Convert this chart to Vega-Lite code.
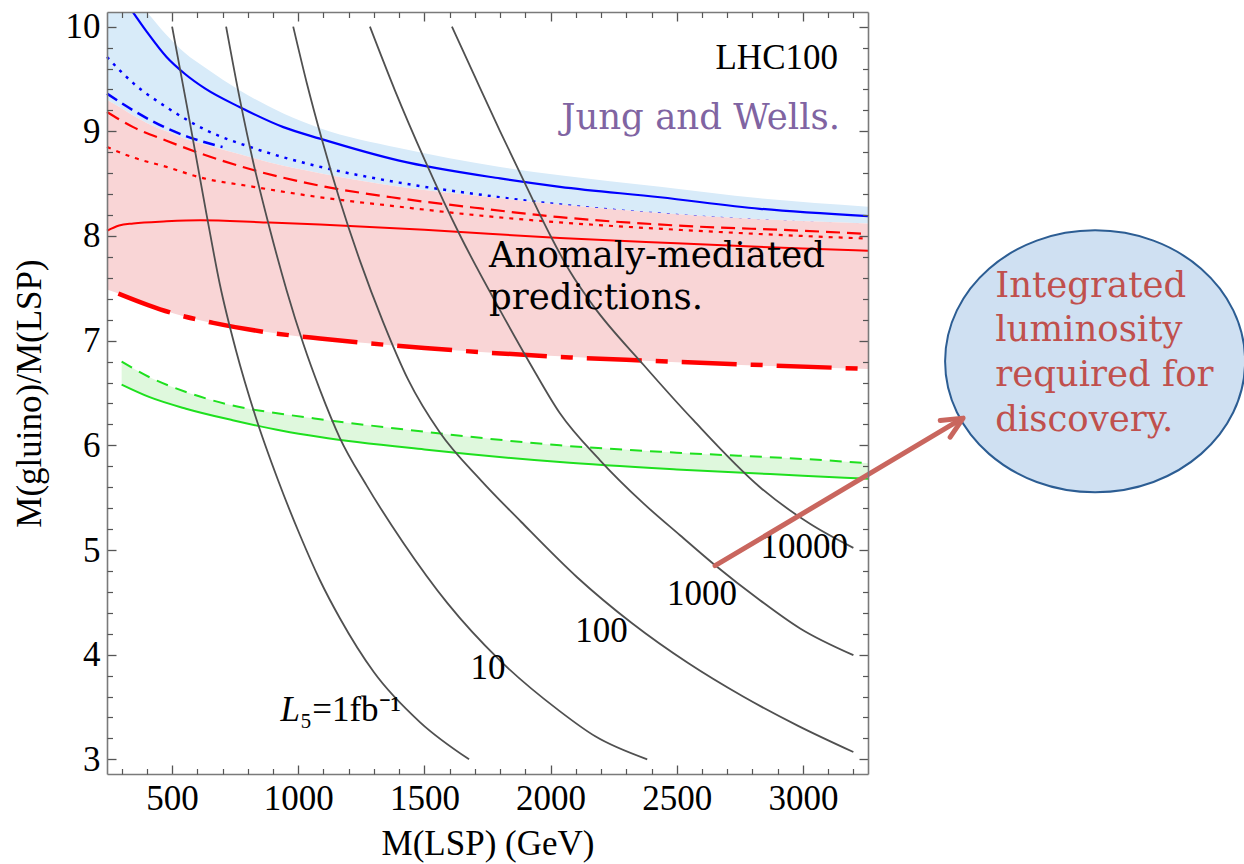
{
  "$schema": "https://vega.github.io/schema/vega-lite/v6.json",
  "width": 761,
  "height": 762,
  "autosize": {"type": "none"},
  "padding": {"left": 107, "top": 12, "right": 376, "bottom": 90},
  "background": "white",
  "config": {"view": {"stroke": null}, "axis": {"grid": false}},
  "datasets": {
    "bands": [
      {"s": "blue", "x": 242, "y": 9.30, "hi": 10.5},
      {"s": "blue", "x": 300, "y": 9.22, "hi": 10.35},
      {"s": "blue", "x": 346, "y": 9.15, "hi": 10.26},
      {"s": "blue", "x": 399, "y": 9.08, "hi": 10.14},
      {"s": "blue", "x": 478, "y": 9.0, "hi": 9.92},
      {"s": "blue", "x": 550, "y": 8.93, "hi": 9.75},
      {"s": "blue", "x": 636, "y": 8.87, "hi": 9.6},
      {"s": "blue", "x": 769, "y": 8.78, "hi": 9.39},
      {"s": "blue", "x": 941, "y": 8.67, "hi": 9.17},
      {"s": "blue", "x": 1086, "y": 8.6, "hi": 9.03},
      {"s": "blue", "x": 1400, "y": 8.47, "hi": 8.84},
      {"s": "blue", "x": 1800, "y": 8.36, "hi": 8.66},
      {"s": "blue", "x": 2037, "y": 8.30, "hi": 8.58},
      {"s": "blue", "x": 2434, "y": 8.22, "hi": 8.47},
      {"s": "blue", "x": 2830, "y": 8.16, "hi": 8.36},
      {"s": "blue", "x": 3258, "y": 8.12, "hi": 8.28},
      {"s": "pink", "x": 242, "y": 7.49, "hi": 9.30},
      {"s": "pink", "x": 300, "y": 7.44, "hi": 9.22},
      {"s": "pink", "x": 346, "y": 7.39, "hi": 9.15},
      {"s": "pink", "x": 399, "y": 7.34, "hi": 9.08},
      {"s": "pink", "x": 478, "y": 7.28, "hi": 9.0},
      {"s": "pink", "x": 550, "y": 7.23, "hi": 8.93},
      {"s": "pink", "x": 636, "y": 7.18, "hi": 8.87},
      {"s": "pink", "x": 769, "y": 7.12, "hi": 8.78},
      {"s": "pink", "x": 941, "y": 7.06, "hi": 8.67},
      {"s": "pink", "x": 1086, "y": 7.02, "hi": 8.6},
      {"s": "pink", "x": 1400, "y": 6.95, "hi": 8.47},
      {"s": "pink", "x": 1800, "y": 6.88, "hi": 8.36},
      {"s": "pink", "x": 2037, "y": 6.85, "hi": 8.30},
      {"s": "pink", "x": 2434, "y": 6.80, "hi": 8.22},
      {"s": "pink", "x": 2830, "y": 6.76, "hi": 8.16},
      {"s": "pink", "x": 3258, "y": 6.73, "hi": 8.12},
      {"s": "green", "x": 300, "y": 6.58, "hi": 6.8},
      {"s": "green", "x": 411, "y": 6.46, "hi": 6.65},
      {"s": "green", "x": 555, "y": 6.35, "hi": 6.51},
      {"s": "green", "x": 740, "y": 6.24, "hi": 6.38},
      {"s": "green", "x": 936, "y": 6.14, "hi": 6.30},
      {"s": "green", "x": 1086, "y": 6.08, "hi": 6.25},
      {"s": "green", "x": 1500, "y": 5.96, "hi": 6.13},
      {"s": "green", "x": 2037, "y": 5.84, "hi": 6.00},
      {"s": "green", "x": 2500, "y": 5.77, "hi": 5.93},
      {"s": "green", "x": 3000, "y": 5.71, "hi": 5.87},
      {"s": "green", "x": 3258, "y": 5.68, "hi": 5.83}
    ],
    "lines": [
      {"s": "bsol", "x": 330, "y": 10.19}, {"s": "bsol", "x": 400, "y": 9.95}, {"s": "bsol", "x": 478, "y": 9.71}, {"s": "bsol", "x": 550, "y": 9.55}, {"s": "bsol", "x": 630, "y": 9.41}, {"s": "bsol", "x": 769, "y": 9.23}, {"s": "bsol", "x": 941, "y": 9.04}, {"s": "bsol", "x": 1086, "y": 8.93}, {"s": "bsol", "x": 1400, "y": 8.72}, {"s": "bsol", "x": 1800, "y": 8.55}, {"s": "bsol", "x": 2037, "y": 8.47}, {"s": "bsol", "x": 2434, "y": 8.37}, {"s": "bsol", "x": 2830, "y": 8.26}, {"s": "bsol", "x": 3258, "y": 8.19},
      {"s": "bdot", "x": 242, "y": 9.71}, {"s": "bdot", "x": 346, "y": 9.46}, {"s": "bdot", "x": 478, "y": 9.23}, {"s": "bdot", "x": 636, "y": 9.01}, {"s": "bdot", "x": 822, "y": 8.84}, {"s": "bdot", "x": 1071, "y": 8.67}, {"s": "bdot", "x": 1400, "y": 8.51}, {"s": "bdot", "x": 1800, "y": 8.37}, {"s": "bdot", "x": 2037, "y": 8.30}, {"s": "bdot", "x": 2500, "y": 8.20}, {"s": "bdot", "x": 3258, "y": 8.10},
      {"s": "bdash", "x": 242, "y": 9.36}, {"s": "bdash", "x": 346, "y": 9.2}, {"s": "bdash", "x": 478, "y": 9.03}, {"s": "bdash", "x": 560, "y": 8.95}, {"s": "bdash", "x": 700, "y": 8.85},
      {"s": "rdash", "x": 242, "y": 9.185}, {"s": "rdash", "x": 346, "y": 9.04}, {"s": "rdash", "x": 478, "y": 8.91}, {"s": "rdash", "x": 611, "y": 8.79}, {"s": "rdash", "x": 822, "y": 8.63}, {"s": "rdash", "x": 1086, "y": 8.48}, {"s": "rdash", "x": 1400, "y": 8.36}, {"s": "rdash", "x": 1700, "y": 8.27}, {"s": "rdash", "x": 2037, "y": 8.18}, {"s": "rdash", "x": 2500, "y": 8.1}, {"s": "rdash", "x": 3000, "y": 8.05}, {"s": "rdash", "x": 3258, "y": 8.02},
      {"s": "rdot", "x": 242, "y": 8.85}, {"s": "rdot", "x": 346, "y": 8.75}, {"s": "rdot", "x": 478, "y": 8.66}, {"s": "rdot", "x": 611, "y": 8.56}, {"s": "rdot", "x": 822, "y": 8.47}, {"s": "rdot", "x": 1086, "y": 8.37}, {"s": "rdot", "x": 1400, "y": 8.28}, {"s": "rdot", "x": 1700, "y": 8.2}, {"s": "rdot", "x": 2037, "y": 8.13}, {"s": "rdot", "x": 2500, "y": 8.06}, {"s": "rdot", "x": 3000, "y": 8.0}, {"s": "rdot", "x": 3258, "y": 7.975},
      {"s": "rsol", "x": 242, "y": 8.05}, {"s": "rsol", "x": 290, "y": 8.10}, {"s": "rsol", "x": 346, "y": 8.12}, {"s": "rsol", "x": 478, "y": 8.14}, {"s": "rsol", "x": 611, "y": 8.15}, {"s": "rsol", "x": 862, "y": 8.13}, {"s": "rsol", "x": 1086, "y": 8.11}, {"s": "rsol", "x": 1500, "y": 8.06}, {"s": "rsol", "x": 2037, "y": 7.98}, {"s": "rsol", "x": 2500, "y": 7.93}, {"s": "rsol", "x": 3000, "y": 7.88}, {"s": "rsol", "x": 3258, "y": 7.86},
      {"s": "rdd", "x": 287, "y": 7.45}, {"s": "rdd", "x": 405, "y": 7.34}, {"s": "rdd", "x": 505, "y": 7.26}, {"s": "rdd", "x": 663, "y": 7.17}, {"s": "rdd", "x": 876, "y": 7.08}, {"s": "rdd", "x": 1086, "y": 7.02}, {"s": "rdd", "x": 1500, "y": 6.93}, {"s": "rdd", "x": 2077, "y": 6.84}, {"s": "rdd", "x": 2368, "y": 6.81}, {"s": "rdd", "x": 2800, "y": 6.77}, {"s": "rdd", "x": 3258, "y": 6.73},
      {"s": "gdash", "x": 300, "y": 6.8}, {"s": "gdash", "x": 411, "y": 6.65}, {"s": "gdash", "x": 555, "y": 6.51}, {"s": "gdash", "x": 740, "y": 6.38}, {"s": "gdash", "x": 936, "y": 6.30}, {"s": "gdash", "x": 1086, "y": 6.25}, {"s": "gdash", "x": 1500, "y": 6.13}, {"s": "gdash", "x": 2037, "y": 6.00}, {"s": "gdash", "x": 2500, "y": 5.93}, {"s": "gdash", "x": 3000, "y": 5.87}, {"s": "gdash", "x": 3258, "y": 5.83},
      {"s": "gsol", "x": 300, "y": 6.58}, {"s": "gsol", "x": 411, "y": 6.46}, {"s": "gsol", "x": 555, "y": 6.35}, {"s": "gsol", "x": 740, "y": 6.24}, {"s": "gsol", "x": 936, "y": 6.14}, {"s": "gsol", "x": 1086, "y": 6.08}, {"s": "gsol", "x": 1500, "y": 5.96}, {"s": "gsol", "x": 2037, "y": 5.84}, {"s": "gsol", "x": 2500, "y": 5.77}, {"s": "gsol", "x": 3000, "y": 5.71}, {"s": "gsol", "x": 3258, "y": 5.68},
      {"s": "g1", "x": 500, "y": 10.0}, {"s": "g1", "x": 558, "y": 9.25}, {"s": "g1", "x": 637, "y": 8.2}, {"s": "g1", "x": 690, "y": 7.529}, {"s": "g1", "x": 753, "y": 6.908}, {"s": "g1", "x": 829, "y": 6.287}, {"s": "g1", "x": 920, "y": 5.666}, {"s": "g1", "x": 1007, "y": 5.141}, {"s": "g1", "x": 1086, "y": 4.711}, {"s": "g1", "x": 1165, "y": 4.348}, {"s": "g1", "x": 1300, "y": 3.832}, {"s": "g1", "x": 1483, "y": 3.354}, {"s": "g1", "x": 1677, "y": 3.0},
      {"s": "g2", "x": 714, "y": 10.0}, {"s": "g2", "x": 769, "y": 9.30}, {"s": "g2", "x": 822, "y": 8.70}, {"s": "g2", "x": 888, "y": 8.06}, {"s": "g2", "x": 954, "y": 7.48}, {"s": "g2", "x": 1020, "y": 6.97}, {"s": "g2", "x": 1086, "y": 6.53}, {"s": "g2", "x": 1165, "y": 6.07}, {"s": "g2", "x": 1270, "y": 5.62}, {"s": "g2", "x": 1416, "y": 5.07}, {"s": "g2", "x": 1592, "y": 4.49}, {"s": "g2", "x": 1797, "y": 3.95}, {"s": "g2", "x": 2031, "y": 3.47}, {"s": "g2", "x": 2177, "y": 3.22}, {"s": "g2", "x": 2383, "y": 3.0},
      {"s": "g3", "x": 980, "y": 10.0}, {"s": "g3", "x": 1034, "y": 9.46}, {"s": "g3", "x": 1094, "y": 8.92}, {"s": "g3", "x": 1165, "y": 8.34}, {"s": "g3", "x": 1245, "y": 7.76}, {"s": "g3", "x": 1336, "y": 7.18}, {"s": "g3", "x": 1435, "y": 6.63}, {"s": "g3", "x": 1562, "y": 6.12}, {"s": "g3", "x": 1724, "y": 5.666}, {"s": "g3", "x": 1883, "y": 5.27}, {"s": "g3", "x": 2105, "y": 4.74}, {"s": "g3", "x": 2323, "y": 4.30}, {"s": "g3", "x": 2545, "y": 3.92}, {"s": "g3", "x": 2763, "y": 3.60}, {"s": "g3", "x": 2981, "y": 3.32}, {"s": "g3", "x": 3200, "y": 3.07},
      {"s": "g4", "x": 1284, "y": 10.0}, {"s": "g4", "x": 1383, "y": 9.392}, {"s": "g4", "x": 1502, "y": 8.723}, {"s": "g4", "x": 1641, "y": 8.007}, {"s": "g4", "x": 1800, "y": 7.29}, {"s": "g4", "x": 1919, "y": 6.78}, {"s": "g4", "x": 2037, "y": 6.306}, {"s": "g4", "x": 2196, "y": 5.857}, {"s": "g4", "x": 2366, "y": 5.45}, {"s": "g4", "x": 2513, "y": 5.141}, {"s": "g4", "x": 2652, "y": 4.854}, {"s": "g4", "x": 2830, "y": 4.52}, {"s": "g4", "x": 2989, "y": 4.25}, {"s": "g4", "x": 3200, "y": 3.995},
      {"s": "g5", "x": 1609, "y": 10.0}, {"s": "g5", "x": 1704, "y": 9.5}, {"s": "g5", "x": 1800, "y": 9.0}, {"s": "g5", "x": 1899, "y": 8.5}, {"s": "g5", "x": 2000, "y": 8.0}, {"s": "g5", "x": 2077, "y": 7.66}, {"s": "g5", "x": 2170, "y": 7.33}, {"s": "g5", "x": 2368, "y": 6.77}, {"s": "g5", "x": 2566, "y": 6.24}, {"s": "g5", "x": 2830, "y": 5.6}, {"s": "g5", "x": 3028, "y": 5.25}, {"s": "g5", "x": 3200, "y": 5.02}
    ],
    "texts": [
      {"k": "contour", "x": 3005, "y": 4.92, "t": "10000"},
      {"k": "contour", "x": 2600, "y": 4.47, "t": "1000"},
      {"k": "contour", "x": 2202, "y": 4.12, "t": "100"},
      {"k": "contour", "x": 1752, "y": 3.77, "t": "10"},
      {"k": "Litalic", "x": 1007, "y": 3.363, "t": "L"},
      {"k": "Lrest", "x": 1007, "y": 3.363, "t": "₅=1fb⁻¹"},
      {"k": "lhc", "x": 3139, "y": 9.6, "t": "LHC100"},
      {"k": "jw", "x": 3147, "y": 9.026, "t": "Jung and Wells."},
      {"k": "anom", "x": 1756, "y": 7.704, "t": "Anomaly-mediated"},
      {"k": "anom", "x": 1756, "y": 7.306, "t": "predictions."},
      {"k": "circ", "x": 3762, "y": 7.417, "t": "Integrated"},
      {"k": "circ", "x": 3762, "y": 7.0, "t": "luminosity"},
      {"k": "circ", "x": 3762, "y": 6.57, "t": "required for"},
      {"k": "circ", "x": 3762, "y": 6.14, "t": "discovery."}
    ],
    "arrow": [{"x": 2652, "y": 4.85, "x2": 3630, "y2": 6.255}],
    "head": [{"x": 3635, "y": 6.26}],
    "blob": [{"x": 4158, "y": 6.803}]
  },
  "encoding": {
    "x": {"field": "x", "type": "quantitative", "scale": {"domain": [242, 3258], "nice": false, "zero": false}, "axis": null},
    "y": {"field": "y", "type": "quantitative", "scale": {"domain": [2.86, 10.14], "nice": false, "zero": false}, "axis": null}
  },
  "layer": [
    {"data": {"name": "bands"}, "transform": [{"filter": "datum.s === 'blue'"}],
     "mark": {"type": "area", "color": "#d8ebf9", "opacity": 1, "clip": true, "interpolate": "monotone"},
     "encoding": {"y2": {"field": "hi"}}},
    {"data": {"name": "lines"}, "transform": [{"filter": "datum.s === 'bdot'"}],
     "mark": {"type": "line", "color": "#0000ff", "strokeWidth": 2.5, "strokeDash": [3, 6], "interpolate": "monotone"}},
    {"data": {"name": "lines"}, "transform": [{"filter": "datum.s === 'bdash'"}],
     "mark": {"type": "line", "color": "#0000ff", "strokeWidth": 2.5, "strokeDash": [12, 6], "interpolate": "monotone"}},
    {"data": {"name": "bands"}, "transform": [{"filter": "datum.s === 'pink'"}],
     "mark": {"type": "area", "color": "#f9d5d6", "opacity": 1, "interpolate": "monotone"},
     "encoding": {"y2": {"field": "hi"}}},
    {"data": {"name": "bands"}, "transform": [{"filter": "datum.s === 'green'"}],
     "mark": {"type": "area", "color": "#dff8dd", "opacity": 1, "interpolate": "monotone"},
     "encoding": {"y2": {"field": "hi"}}},
    {"data": {"name": "lines"}, "transform": [{"filter": "datum.s === 'rdash'"}],
     "mark": {"type": "line", "color": "#ff0000", "strokeWidth": 2.2, "strokeDash": [14, 7], "interpolate": "monotone"}},
    {"data": {"name": "lines"}, "transform": [{"filter": "datum.s === 'rdot'"}],
     "mark": {"type": "line", "color": "#ff0000", "strokeWidth": 2.2, "strokeDash": [4, 6], "interpolate": "monotone"}},
    {"data": {"name": "lines"}, "transform": [{"filter": "datum.s === 'rsol'"}],
     "mark": {"type": "line", "color": "#ff0000", "strokeWidth": 2, "interpolate": "monotone"}},
    {"data": {"name": "lines"}, "transform": [{"filter": "datum.s === 'rdd'"}],
     "mark": {"type": "line", "color": "#ff0000", "strokeWidth": 4.5, "strokeDash": [55, 14, 12, 14], "interpolate": "monotone"}},
    {"data": {"name": "lines"}, "transform": [{"filter": "datum.s === 'bsol'"}],
     "mark": {"type": "line", "color": "#0000ff", "strokeWidth": 2.2, "clip": true, "interpolate": "monotone"}},
    {"data": {"name": "lines"}, "transform": [{"filter": "datum.s === 'gdash'"}],
     "mark": {"type": "line", "color": "#1ee01e", "strokeWidth": 2, "strokeDash": [12, 8], "interpolate": "monotone"}},
    {"data": {"name": "lines"}, "transform": [{"filter": "datum.s === 'gsol'"}],
     "mark": {"type": "line", "color": "#1ee01e", "strokeWidth": 2, "interpolate": "monotone"}},
    {"data": {"name": "lines"}, "transform": [{"filter": "datum.s === 'g1'"}],
     "mark": {"type": "line", "color": "#505050", "strokeWidth": 1.8, "interpolate": "monotone"},
     "encoding": {
       "x": {"field": "x", "type": "quantitative", "scale": {"domain": [242, 3258], "nice": false, "zero": false},
             "axis": {"orient": "bottom", "values": [500, 1000, 1500, 2000, 2500, 3000], "format": "d", "ticks": false, "domain": false, "labelFont": "Liberation Serif", "labelFontSize": 35, "labelColor": "#000000", "labelPadding": 7, "labelFlush": false, "labelOverlap": false, "title": "M(LSP) (GeV)", "titleFont": "Liberation Serif", "titleFontSize": 35, "titleFontWeight": "normal", "titleColor": "#000000", "titlePadding": 10}},
       "y": {"field": "y", "type": "quantitative", "scale": {"domain": [2.86, 10.14], "nice": false, "zero": false},
             "axis": {"orient": "left", "values": [3, 4, 5, 6, 7, 8, 9, 10], "format": "d", "ticks": false, "domain": false, "labelFont": "Liberation Serif", "labelFontSize": 35, "labelColor": "#000000", "labelPadding": 7, "labelFlush": false, "labelOverlap": false, "title": "M(gluino)/M(LSP)", "titleFont": "Liberation Serif", "titleFontSize": 35, "titleFontWeight": "normal", "titleColor": "#000000", "titlePadding": 18}}
     }},
    {"data": {"name": "lines"}, "transform": [{"filter": "datum.s === 'g2'"}],
     "mark": {"type": "line", "color": "#505050", "strokeWidth": 1.8, "interpolate": "monotone"},
     "encoding": {
       "x": {"field": "x", "type": "quantitative", "scale": {"domain": [242, 3258], "nice": false, "zero": false},
             "axis": {"orient": "bottom", "values": [500, 1000, 1500, 2000, 2500, 3000], "labels": false, "domain": true, "domainColor": "#7a7a7a", "domainWidth": 1.6, "ticks": true, "tickSize": -9, "tickColor": "#555555", "tickWidth": 1.3, "title": null, "zindex": 1}},
       "y": {"field": "y", "type": "quantitative", "scale": {"domain": [2.86, 10.14], "nice": false, "zero": false},
             "axis": {"orient": "left", "values": [3, 4, 5, 6, 7, 8, 9, 10], "labels": false, "domain": true, "domainColor": "#7a7a7a", "domainWidth": 1.6, "ticks": true, "tickSize": -9, "tickColor": "#555555", "tickWidth": 1.3, "title": null, "zindex": 1}}
     }},
    {"data": {"name": "lines"}, "transform": [{"filter": "datum.s === 'g3'"}],
     "mark": {"type": "line", "color": "#505050", "strokeWidth": 1.8, "interpolate": "monotone"},
     "encoding": {
       "x": {"field": "x", "type": "quantitative", "scale": {"domain": [242, 3258], "nice": false, "zero": false},
             "axis": {"orient": "bottom", "values": [300, 400, 600, 700, 800, 900, 1100, 1200, 1300, 1400, 1600, 1700, 1800, 1900, 2100, 2200, 2300, 2400, 2600, 2700, 2800, 2900, 3100, 3200], "labels": false, "domain": false, "ticks": true, "tickSize": -5.5, "tickColor": "#555555", "tickWidth": 1.2, "title": null, "zindex": 1}},
       "y": {"field": "y", "type": "quantitative", "scale": {"domain": [2.86, 10.14], "nice": false, "zero": false},
             "axis": {"orient": "left", "values": [3.2, 3.4, 3.6, 3.8, 4.2, 4.4, 4.6, 4.8, 5.2, 5.4, 5.6, 5.8, 6.2, 6.4, 6.6, 6.8, 7.2, 7.4, 7.6, 7.8, 8.2, 8.4, 8.6, 8.8, 9.2, 9.4, 9.6, 9.8], "labels": false, "domain": false, "ticks": true, "tickSize": -5.5, "tickColor": "#555555", "tickWidth": 1.2, "title": null, "zindex": 1}}
     }},
    {"data": {"name": "lines"}, "transform": [{"filter": "datum.s === 'g4'"}],
     "mark": {"type": "line", "color": "#505050", "strokeWidth": 1.8, "interpolate": "monotone"},
     "encoding": {
       "x": {"field": "x", "type": "quantitative", "scale": {"domain": [242, 3258], "nice": false, "zero": false},
             "axis": {"orient": "top", "values": [500, 1000, 1500, 2000, 2500, 3000], "labels": false, "domain": true, "domainColor": "#7a7a7a", "domainWidth": 1.6, "ticks": true, "tickSize": -9, "tickColor": "#555555", "tickWidth": 1.3, "title": null, "zindex": 1}},
       "y": {"field": "y", "type": "quantitative", "scale": {"domain": [2.86, 10.14], "nice": false, "zero": false},
             "axis": {"orient": "right", "values": [3, 4, 5, 6, 7, 8, 9, 10], "labels": false, "domain": true, "domainColor": "#7a7a7a", "domainWidth": 1.6, "ticks": true, "tickSize": -9, "tickColor": "#555555", "tickWidth": 1.3, "title": null, "zindex": 1}}
     }},
    {"data": {"name": "lines"}, "transform": [{"filter": "datum.s === 'g5'"}],
     "mark": {"type": "line", "color": "#505050", "strokeWidth": 1.8, "interpolate": "monotone"},
     "encoding": {
       "x": {"field": "x", "type": "quantitative", "scale": {"domain": [242, 3258], "nice": false, "zero": false},
             "axis": {"orient": "top", "values": [300, 400, 600, 700, 800, 900, 1100, 1200, 1300, 1400, 1600, 1700, 1800, 1900, 2100, 2200, 2300, 2400, 2600, 2700, 2800, 2900, 3100, 3200], "labels": false, "domain": false, "ticks": true, "tickSize": -5.5, "tickColor": "#555555", "tickWidth": 1.2, "title": null, "zindex": 1}},
       "y": {"field": "y", "type": "quantitative", "scale": {"domain": [2.86, 10.14], "nice": false, "zero": false},
             "axis": {"orient": "right", "values": [3.2, 3.4, 3.6, 3.8, 4.2, 4.4, 4.6, 4.8, 5.2, 5.4, 5.6, 5.8, 6.2, 6.4, 6.6, 6.8, 7.2, 7.4, 7.6, 7.8, 8.2, 8.4, 8.6, 8.8, 9.2, 9.4, 9.6, 9.8], "labels": false, "domain": false, "ticks": true, "tickSize": -5.5, "tickColor": "#555555", "tickWidth": 1.2, "title": null, "zindex": 1}}
     }},
    {"data": {"name": "texts"}, "transform": [{"filter": "datum.k === 'contour'"}],
     "mark": {"type": "text", "font": "Liberation Serif", "fontSize": 35, "color": "#000000", "align": "center", "baseline": "alphabetic"},
     "encoding": {"text": {"field": "t"}}},
    {"data": {"name": "texts"}, "transform": [{"filter": "datum.k === 'Litalic'"}],
     "mark": {"type": "text", "font": "Liberation Serif", "fontSize": 35, "fontStyle": "italic", "color": "#000000", "align": "right", "baseline": "alphabetic"},
     "encoding": {"text": {"field": "t"}}},
    {"data": {"name": "texts"}, "transform": [{"filter": "datum.k === 'Lrest'"}],
     "mark": {"type": "text", "font": "Liberation Serif", "fontSize": 35, "color": "#000000", "align": "left", "baseline": "alphabetic"},
     "encoding": {"text": {"field": "t"}}},
    {"data": {"name": "texts"}, "transform": [{"filter": "datum.k === 'lhc'"}],
     "mark": {"type": "text", "font": "Liberation Serif", "fontSize": 35, "color": "#000000", "align": "right", "baseline": "alphabetic"},
     "encoding": {"text": {"field": "t"}}},
    {"data": {"name": "texts"}, "transform": [{"filter": "datum.k === 'jw'"}],
     "mark": {"type": "text", "font": "DejaVu Serif", "fontSize": 35.5, "color": "#8064a2", "align": "right", "baseline": "alphabetic"},
     "encoding": {"text": {"field": "t"}}},
    {"data": {"name": "texts"}, "transform": [{"filter": "datum.k === 'anom'"}],
     "mark": {"type": "text", "font": "DejaVu Serif", "fontSize": 35.5, "color": "#000000", "align": "left", "baseline": "alphabetic"},
     "encoding": {"text": {"field": "t"}}},
    {"data": {"name": "blob"},
     "mark": {"type": "point", "shape": "M-1,0C-1,-0.482,-0.552,-0.873,0,-0.873C0.552,-0.873,1,-0.482,1,0C1,0.482,0.552,0.873,0,0.873C-0.552,0.873,-1,0.482,-1,0Z", "size": 90000, "filled": true, "fill": "#cfe0f2", "fillOpacity": 1, "stroke": "#2c5d93", "strokeWidth": 2, "opacity": 1}},
    {"data": {"name": "texts"}, "transform": [{"filter": "datum.k === 'circ'"}],
     "mark": {"type": "text", "font": "DejaVu Serif", "fontSize": 35.5, "color": "#c0504d", "align": "left", "baseline": "alphabetic"},
     "encoding": {"text": {"field": "t"}}},
    {"data": {"name": "arrow"},
     "mark": {"type": "rule", "color": "#c9665e", "strokeWidth": 5, "strokeCap": "round"},
     "encoding": {"x2": {"field": "x2"}, "y2": {"field": "y2"}}},
    {"data": {"name": "head"},
     "mark": {"type": "point", "shape": "M-0.906,-0.423L0,0L-0.906,0.423", "size": 2116, "filled": false, "stroke": "#c9665e", "strokeWidth": 5, "strokeCap": "round", "strokeJoin": "round", "angle": 329.3, "opacity": 1}}
  ],
  "resolve": {"axis": {"x": "independent", "y": "independent"}}
}
